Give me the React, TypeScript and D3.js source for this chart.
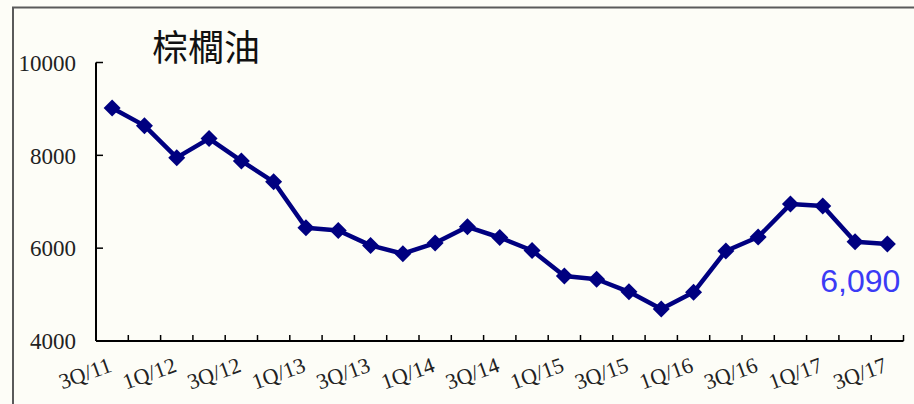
import React from "react";
import * as d3 from "d3";

const quarters = [
  "3Q/11", "4Q/11", "1Q/12", "2Q/12", "3Q/12", "4Q/12", "1Q/13", "2Q/13", "3Q/13", "4Q/13",
  "1Q/14", "2Q/14", "3Q/14", "4Q/14", "1Q/15", "2Q/15", "3Q/15", "4Q/15", "1Q/16", "2Q/16",
  "3Q/16", "4Q/16", "1Q/17", "2Q/17", "3Q/17",
];
const prices = [
  9020, 8640, 7950, 8360, 7880, 7430, 6440, 6380, 6060, 5880,
  6110, 6460, 6230, 5950, 5400, 5330, 5060, 4690, 5050, 5940,
  6240, 6950, 6910, 6140, 6090,
];
const yTicks = [4000, 6000, 8000, 10000];
const title = "棕櫚油";
const lastLabel = "6,090";

const W = 914;
const H = 404;
const left = 96;
const right = 903.5;
const top = 62.5;
const bottom = 341;

export default function App() {
  const x = d3.scaleBand<string>().domain(quarters).range([left, right]).paddingInner(0).paddingOuter(0);
  const y = d3.scaleLinear().domain([4000, 10000]).range([bottom, top]);
  const line = d3
    .line<number>()
    .x((_, i) => (x(quarters[i]) as number) + x.bandwidth() / 2)
    .y((d) => y(d));
  const bw = x.bandwidth();
  const tickXs = d3.range(quarters.length + 1).map((i) => left + i * bw);
  const labelIdx = quarters.map((_, i) => i).filter((i) => i % 2 === 0);
  const d = 8.5;
  const lastX = (x(quarters[quarters.length - 1]) as number) + bw / 2;

  return (
    <svg
      width={W}
      height={H}
      style={{ position: "absolute", left: 0, top: 0, display: "block" }}
    >
      <rect x={0} y={0} width={W} height={H} fill="#fdfdf7" />
      <path d={`M13,${H + 2} L13,7.5 L${W + 2},7.5`} fill="none" stroke="#5a5a5a" strokeWidth={2} />
      <text
        x={206}
        y={61}
        textAnchor="middle"
        fontFamily="'Noto Sans CJK TC', 'Noto Sans CJK SC', sans-serif"
        fontSize={36}
        fill="#111"
      >
        {title}
      </text>
      {/* y axis */}
      <line x1={left} x2={left} y1={top} y2={bottom} stroke="#000" strokeWidth={2} />
      {yTicks.map((t) => (
        <g key={t}>
          <line x1={left} x2={left + 7} y1={y(t)} y2={y(t)} stroke="#000" strokeWidth={1.5} />
          <text
            x={76}
            y={y(t)}
            dy="0.36em"
            textAnchor="end"
            fontFamily="'Liberation Serif', 'DejaVu Serif', serif"
            fontSize={23}
            fill="#222"
          >
            {t}
          </text>
        </g>
      ))}
      {/* x axis */}
      <line x1={left} x2={right} y1={bottom} y2={bottom} stroke="#000" strokeWidth={2} />
      {tickXs.map((tx, i) => (
        <line key={i} x1={tx} x2={tx} y1={bottom} y2={bottom - 6} stroke="#000" strokeWidth={1.5} />
      ))}
      {labelIdx.map((i) => {
        const cx = (x(quarters[i]) as number) + bw / 2;
        return (
          <text
            key={i}
            transform={`translate(${cx + 1},${371}) rotate(-20)`}
            textAnchor="end"
            fontFamily="'Liberation Serif', 'DejaVu Serif', serif"
            fontSize={22}
            fill="#222"
          >
            {quarters[i]}
          </text>
        );
      })}
      <path d={line(prices) || ""} fill="none" stroke="#000080" strokeWidth={4.5} strokeLinejoin="round" />
      {prices.map((v, i) => {
        const cx = (x(quarters[i]) as number) + bw / 2;
        const cy = y(v);
        return (
          <path
            key={i}
            d={`M${cx},${cy - d} L${cx + d},${cy} L${cx},${cy + d} L${cx - d},${cy} Z`}
            fill="#000080"
          />
        );
      })}
      <text
        x={lastX + 13}
        y={292}
        textAnchor="end"
        fontFamily="'Liberation Sans', Arial, sans-serif"
        fontSize={32}
        fill="#3b3bf5"
      >
        {lastLabel}
      </text>
    </svg>
  );
}
